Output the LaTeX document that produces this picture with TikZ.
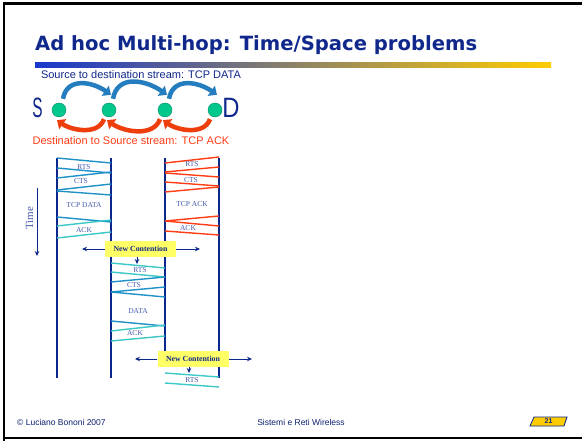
\documentclass[tikz,border=0pt]{standalone}
\usepackage{fontspec}
\setmainfont{Liberation Serif}
\setsansfont{Liberation Sans}
\newfontfamily\titlefont{DejaVu Sans}
\usetikzlibrary{positioning, arrows.meta}

\definecolor{titlenavy}{RGB}{16,40,140}
\definecolor{linenavy}{RGB}{10,40,140}
\definecolor{barblue}{RGB}{25,55,205}
\definecolor{barmid}{RGB}{185,150,140}
\definecolor{tealdark}{RGB}{30,145,200}
\definecolor{teallight}{RGB}{60,200,200}
\definecolor{ackred}{RGB}{255,60,20}
\definecolor{labelblue}{RGB}{70,90,175}
\definecolor{noteyellow}{RGB}{255,255,102}
\definecolor{hopgreen}{RGB}{0,200,140}
\definecolor{arcblue}{RGB}{35,125,190}
\definecolor{arcred}{RGB}{238,62,12}
\definecolor{pagegold}{RGB}{255,204,0}

\tikzset{
	timeline/.style={draw=linenavy, line width=2pt},
	msgdark/.style={draw=tealdark, line width=1.4pt},
	msglight/.style={draw=teallight, line width=1.4pt},
	msgred/.style={draw=ackred, line width=1.4pt},
	msglabel/.style={font=\fontsize{7.5}{8}\selectfont, text=labelblue, inner sep=0pt},
	contention/.style={fill=noteyellow, font=\bfseries\fontsize{7.8}{9}\selectfont, text=titlenavy, minimum width=71pt, minimum height=16pt, inner sep=0pt},
	smallarrow/.style={draw=linenavy, line width=0.8pt, -{Stealth[length=5pt, width=4.5pt]}},
	hop/.style={circle, fill=hopgreen, draw=hopgreen!70!black, line width=0.4pt, minimum size=14pt, inner sep=0pt},
	dataarc/.style={draw=arcblue, line width=4.5pt, -{Triangle[length=7pt, width=12pt]}},
	ackarc/.style={draw=arcred, line width=4.5pt, -{Triangle[length=7pt, width=12pt]}},
	footer/.style={font=\sffamily\fontsize{8.5}{10}\selectfont, text=titlenavy!80!black, inner sep=0pt},
}

\begin{document}
\begin{tikzpicture}[x=1pt, y=1pt]

	\useasboundingbox (0,0) rectangle (582,-441);
	\fill[white] (0,0) rectangle (582,-441);

	% slide frame
	\draw[black, line width=2.5pt] (4,-441) -- (4,-3.5) -- (582,-3.5);
	\draw[black, line width=2.5pt] (4,-438) -- (582,-438);

	% title and bar
	\node (title) at (35,-51) [anchor=base west, inner sep=0pt, text=titlenavy, font=\titlefont\bfseries\fontsize{19.6}{22}\selectfont]{Ad hoc Multi-hop: Time/Space problems};
	\shade[left color=barblue, middle color=barmid, right color=pagegold] (35,-63) rectangle (551,-67.5);

	% hops
	\node (srcstream) at (141,-75) [font=\sffamily\fontsize{11}{12}\selectfont, text=titlenavy, inner sep=0pt]{Source to destination stream: TCP DATA};
	\node (src) at (37.5,-107.5) [text=titlenavy, font=\sffamily\fontsize{28}{30}\selectfont, inner sep=0pt]{\scalebox{0.55}[1]{S}};
	\node (hop1) at (59,-110) [hop]{};
	\node (hop2) at (109,-110) [hop]{};
	\node (hop3) at (165,-110) [hop]{};
	\node (hop4) at (215,-110) [hop]{};
	\node (dst) at (231,-107.5) [text=titlenavy, font=\sffamily\fontsize{28}{30}\selectfont, inner sep=0pt]{\scalebox{0.85}[1]{D}};
	\node (dststream) at (131,-141) [font=\sffamily\fontsize{11}{12}\selectfont, text=ackred, inner sep=0pt]{Destination to Source stream: TCP ACK};

	\draw[dataarc] ([shift={(4,4)}]hop1.north) to[out=80, in=145, looseness=1.2] ([shift={(2,8)}]hop2.north);
	\draw[dataarc] ([shift={(4,4)}]hop2.north) to[out=80, in=145, looseness=1.2] ([shift={(2,8)}]hop3.north);
	\draw[dataarc] ([shift={(4,4)}]hop3.north) to[out=80, in=145, looseness=1.2] ([shift={(2,8)}]hop4.north);

	\draw[ackarc] ([shift={(-5,-2)}]hop2.south) to[out=-110, in=-35, looseness=0.95] ([shift={(-2,-3)}]hop1.south);
	\draw[ackarc] ([shift={(-5,-2)}]hop3.south) to[out=-110, in=-35, looseness=0.95] ([shift={(-2,-3)}]hop2.south);
	\draw[ackarc] ([shift={(-5,-2)}]hop4.south) to[out=-110, in=-35, looseness=0.95] ([shift={(-2,-3)}]hop3.south);

	% time axis
	\coordinate (timetop) at (37,-188);
	\coordinate (timebot) at (37,-256);
	\draw[smallarrow] (timetop) -- (timebot);
	\node (timelabel) at (29.5,-218) [rotate=90, text=labelblue, font=\fontsize{11}{12}\selectfont, inner sep=0pt]{Time};

	% timelines
	\coordinate (line1top) at (57,-158);
	\coordinate (line1bot) at (57,-378);
	\coordinate (line2top) at (111,-158);
	\coordinate (line2bot) at (111,-378);
	\coordinate (line3top) at (165,-158);
	\coordinate (line3bot) at (165,-360);
	\coordinate (line4top) at (219,-158);
	\coordinate (line4bot) at (219,-378);
	\draw[timeline] (line1top) -- (line1bot);
	\draw[timeline] (line2top) -- (line2bot);
	\draw[timeline] (line3top) -- (line3bot);
	\draw[timeline] (line4top) -- (line4bot);

	% first hop exchange
	\draw[msgdark] (57,-158) -- (111,-163);
	\draw[msgdark] (57,-168) -- (111,-173);
	\draw[msgdark] (111,-172) -- (57,-178);
	\draw[msgdark] (111,-184) -- (57,-190);
	\draw[msgdark] (57,-191) -- (111,-195);
	\draw[msgdark] (57,-217) -- (111,-222);
	\draw[msglight] (111,-220) -- (57,-226);
	\draw[msglight] (111,-232) -- (57,-238);
	\node (rts1) at (84,-167) [msglabel]{RTS};
	\node (cts1) at (81,-181) [msglabel]{CTS};
	\node (data1) at (84,-205) [msglabel]{TCP DATA};
	\node (ack1) at (84,-230) [msglabel]{ACK};

	% last hop exchange
	\draw[msgred] (219,-157) -- (165,-163);
	\draw[msgred] (219,-167) -- (165,-172);
	\draw[msgred] (165,-173) -- (219,-177);
	\draw[msgred] (165,-182) -- (219,-186);
	\draw[msgred] (219,-187) -- (165,-192);
	\draw[msgred] (219,-216) -- (165,-221);
	\draw[msgred] (165,-221) -- (219,-226);
	\draw[msgred] (165,-231) -- (219,-235);
	\node (rts3) at (192,-164) [msglabel]{RTS};
	\node (cts3) at (191,-180) [msglabel]{CTS};
	\node (tcpack3) at (192,-204) [msglabel]{TCP ACK};
	\node (ack3) at (188,-228) [msglabel]{ACK};

	% second hop exchange
	\draw[msglight] (111,-263) -- (165,-268);
	\draw[msglight] (111,-272) -- (165,-277);
	\draw[msgdark] (165,-277) -- (111,-282);
	\draw[msgdark] (165,-287) -- (111,-292);
	\draw[msgdark] (111,-292) -- (165,-297);
	\draw[msgdark] (111,-321) -- (165,-326);
	\draw[msglight] (165,-325) -- (111,-331);
	\draw[msglight] (165,-336) -- (111,-341);
	\node (rts2) at (140,-270) [msglabel]{RTS};
	\node (cts2) at (134,-285) [msglabel]{CTS};
	\node (data2) at (138,-311) [msglabel]{DATA};
	\node (ack2) at (135,-333) [msglabel]{ACK};

	% next RTS
	\draw[msglight] (165,-373) -- (219,-377);
	\draw[msglight] (165,-383) -- (219,-387);
	\node (rts4) at (192,-380) [msglabel]{RTS};

	% contention notes
	\node (cont1) at (140.5,-249) [contention]{New Contention};
	\coordinate (cont1left) at (82,-249);
	\coordinate (cont1right) at (200,-249);
	\coordinate (cont1down) at (137,-264);
	\draw[smallarrow] (cont1.west) -- (cont1left);
	\draw[smallarrow] (cont1.east) -- (cont1right);
	\draw[smallarrow] (cont1.south -| cont1down) -- (cont1down);

	\node (cont2) at (193,-359) [contention]{New Contention};
	\coordinate (cont2left) at (135,-359);
	\coordinate (cont2right) at (252,-359);
	\coordinate (cont2down) at (189,-373);
	\draw[smallarrow] (cont2.west) -- (cont2left);
	\draw[smallarrow] (cont2.east) -- (cont2right);
	\draw[smallarrow] (cont2.south -| cont2down) -- (cont2down);

	% footer
	\node (author) at (17,-425) [footer, anchor=base west]{\textcopyright{} Luciano Bononi 2007};
	\node (course) at (301,-425) [footer, anchor=base]{Sistemi e Reti Wireless};
	\draw[fill=pagegold, draw=linenavy, line width=0.8pt] (534,-417) -- (567,-417) -- (564,-426) -- (530,-426) -- cycle;
	\node (pagenum) at (548.5,-421.5) [text=titlenavy, font=\sffamily\bfseries\fontsize{7}{8}\selectfont, inner sep=0pt]{21};

\end{tikzpicture}
\end{document}
